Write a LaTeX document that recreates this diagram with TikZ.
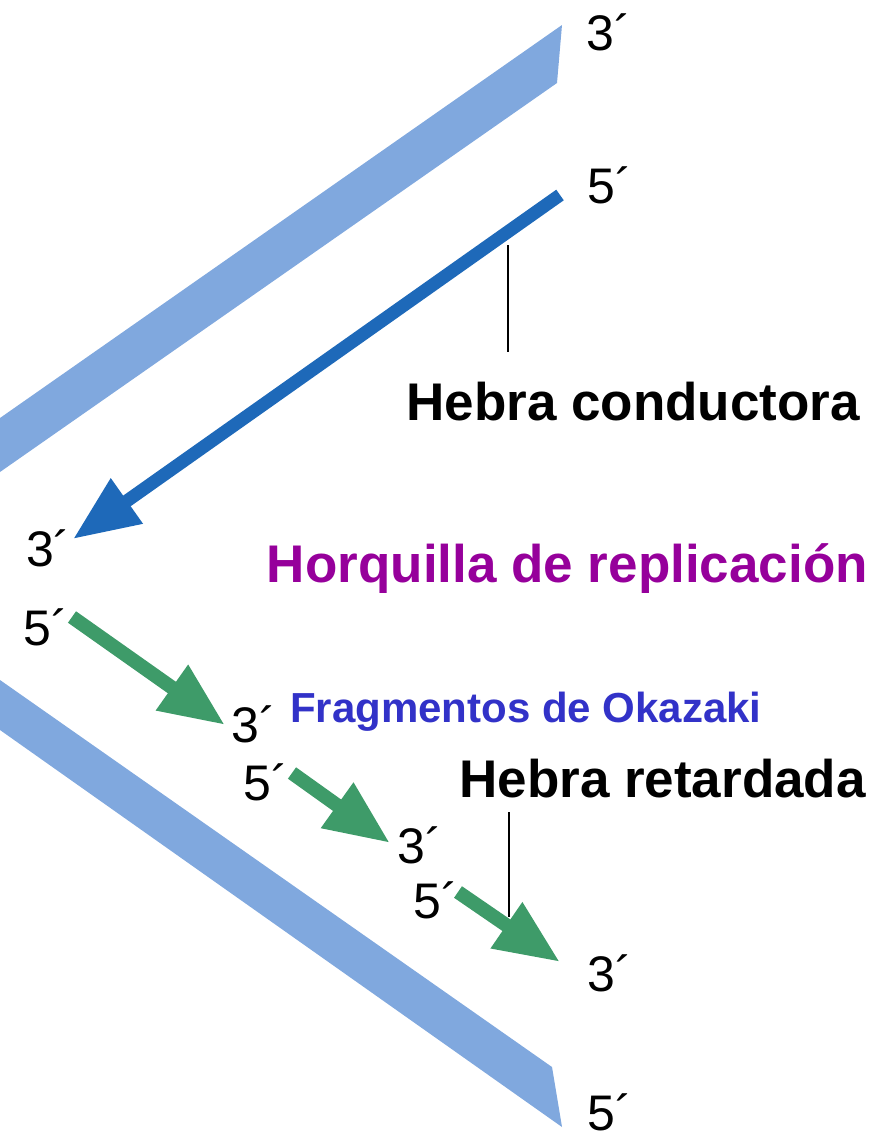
\documentclass[tikz,border=0pt]{standalone}
\usepackage{fontspec}
\setmainfont{Liberation Sans}
\usepackage{xcolor}
\usepackage{tikz}
\usetikzlibrary{positioning,arrows.meta,calc}
\definecolor{StrandBlue}{RGB}{128,168,222}
\definecolor{LeadBlue}{RGB}{30,105,185}
\definecolor{FragGreen}{RGB}{62,155,105}
\definecolor{ForkPurple}{RGB}{150,0,155}
\definecolor{OkaBlue}{RGB}{50,50,200}

\begin{document}
\begin{tikzpicture}[
  x=1pt, y=-1pt,
  font=\fontsize{50}{56}\selectfont,
  endlbl/.style={inner sep=0pt,anchor=base west},
  title/.style={inner sep=0pt,anchor=base east,font=\fontsize{53}{60}\selectfont\bfseries},
  templ/.style={fill=StrandBlue,draw=none},
  lead/.style={-{Triangle[length=66pt,width=52pt]},draw=LeadBlue,line width=13pt},
  frag/.style={-{Triangle[length=65pt,width=52pt]},draw=FragGreen,line width=14pt},
  leader/.style={draw=black,line width=1.8pt}
]
\useasboundingbox (0,0) rectangle (890,1143);
% parental strands
\fill[templ] (562,25) -- (557,83) -- (0,472) -- (0,418) -- cycle;
\fill[templ] (552,1067) -- (562,1127) -- (0,730) -- (0,680) -- cycle;
% end labels
\node[endlbl] (t3) at (586,50) {3´};
\node[endlbl] (t5) at (587,203) {5´};
\node[endlbl] (l3) at (26,566) {3´};
\node[endlbl] (l5) at (23,645) {5´};
\node[endlbl] (f1e) at (231,742) {3´};
\node[endlbl] (f2s) at (243,800) {5´};
\node[endlbl] (f2e) at (397,863) {3´};
\node[endlbl] (f3s) at (413,918) {5´};
\node[endlbl] (f3e) at (587,991) {3´};
\node[endlbl] (b5) at (587,1130) {5´};
% new strands
\coordinate (ls) at (560,195);
\coordinate (le) at (73,539);
\draw[lead] (ls) -- (le);
\coordinate (f1a) at (72,617);
\coordinate (f1b) at (225,725);
\coordinate (f2a) at (292,773);
\coordinate (f2b) at (390,843);
\coordinate (f3a) at (458,892);
\coordinate (f3b) at (560,962);
\draw[frag] (f1a) -- (f1b);
\draw[frag] (f2a) -- (f2b);
\draw[frag] (f3a) -- (f3b);
% labels
\node[title] (cond) at (860,420) {Hebra conductora};
\node[title,text=ForkPurple] (fork) at (868,582) {Horquilla de replicación};
\node[inner sep=0pt,anchor=base west,font=\fontsize{42}{48}\selectfont\bfseries,text=OkaBlue] (oka) at (290,722) {Fragmentos de Okazaki};
\node[title] (ret) at (866,797) {Hebra retardada};
\coordinate (cp) at (508,245);
\coordinate (ce) at (508,352);
\draw[leader] (cp) -- (ce);
\coordinate (rp) at (509,812);
\coordinate (re) at (509,917);
\draw[leader] (rp) -- (re);
\end{tikzpicture}
\end{document}
